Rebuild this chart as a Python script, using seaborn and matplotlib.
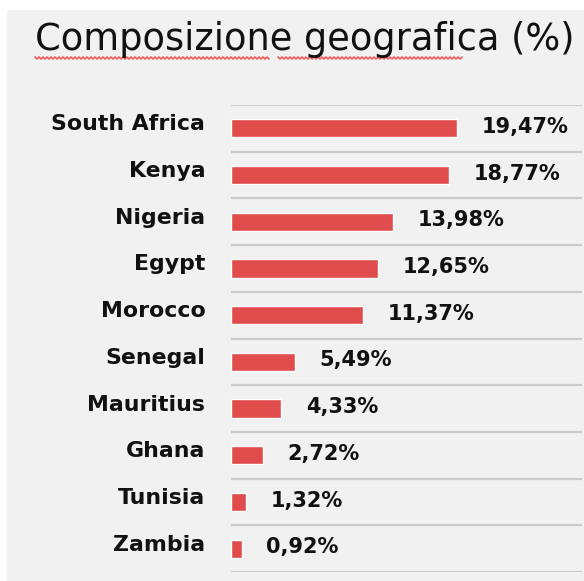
import matplotlib
matplotlib.use('Agg')
import matplotlib.pyplot as plt
import matplotlib.transforms as mtransforms
import pandas as pd
import numpy as np
import seaborn as sns
from matplotlib.patches import Rectangle
from matplotlib.lines import Line2D

# data
countries = ['South Africa', 'Kenya', 'Nigeria', 'Egypt', 'Morocco',
             'Senegal', 'Mauritius', 'Ghana', 'Tunisia', 'Zambia']
weights = [19.47, 18.77, 13.98, 12.65, 11.37, 5.49, 4.33, 2.72, 1.32, 0.92]
title = 'Composizione geografica (%)'

df = pd.DataFrame({'country': countries, 'weight': weights})

bg = '#f1f1f1'
bar_color = '#e04c4c'

sns.set_style('white')
plt.rcParams['font.family'] = ['DejaVu Sans']

fig = plt.figure(figsize=(5.84, 5.81), dpi=100, facecolor='white')
# gray panel behind everything
fig.add_artist(Rectangle((7 / 584, 0), 1, 1 - 10 / 581, transform=fig.transFigure,
                         facecolor=bg, edgecolor='none', zorder=-5))

ax = fig.add_axes([231 / 584, 1 - 572 / 581, 351 / 584, 467 / 581])
ax.set_facecolor(bg)

sns.barplot(data=df, x='weight', y='country', orient='h', color=bar_color,
            saturation=1, width=0.39, ax=ax, zorder=3)

ax.set_xlim(0, 30.2)
ax.set_ylim(len(countries) - 0.5, -0.5)

# separators between categories
ax.set_yticks(np.arange(-0.5, len(countries), 1), minor=True)
ax.grid(which='minor', axis='y', color='#cacaca', linewidth=1.6)
ax.grid(which='major', axis='both', visible=False)
ax.tick_params(axis='y', which='both', length=0)
ax.tick_params(axis='y', which='major', pad=18.5, labelsize=15.8, labelcolor='#111111')
shift_up = mtransforms.ScaledTranslation(0, 6 / 100, fig.dpi_scale_trans)
for lbl in ax.get_yticklabels():
  lbl.set_fontweight('bold')
  lbl.set_transform(lbl.get_transform() + shift_up)
ax.set_xticks([])
ax.set_xlabel('')
ax.set_ylabel('')
for s in ax.spines.values():
  s.set_visible(False)

for i, v in enumerate(weights):
  txt = f'{v:.2f}'.replace('.', ',') + '%'
  ax.text(v + 2.1, i - 0.03, txt, va='center', ha='left', fontsize=15,
          fontweight='bold', color='#111111', zorder=4)

fig.text(35 / 584, 1 - 40 / 581, title, fontsize=26.5, ha='left', va='center',
         color='#111111')

# spell-check squiggle under the first two words
for x0, x1 in [(35, 270), (278, 463)]:
  xs = np.arange(x0, x1 + 1, 2.0)
  ys = 58 + np.where(np.arange(len(xs)) % 2 == 0, -1.0, 1.0)
  fig.add_artist(Line2D(xs / 584, 1 - ys / 581, transform=fig.transFigure,
                        color='#ee5a5a', linewidth=1.2))

fig.savefig('out.png', dpi=100, facecolor='white')
